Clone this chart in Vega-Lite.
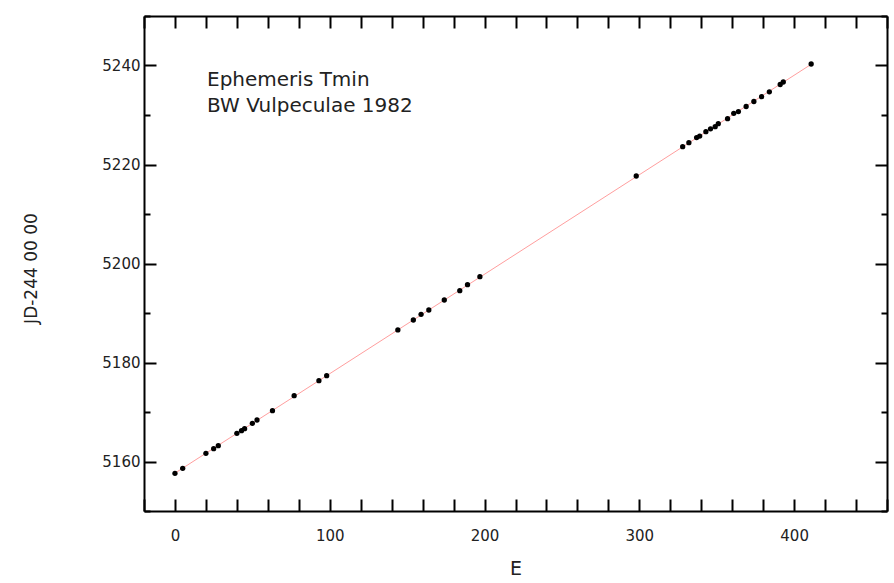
{
  "$schema": "https://vega.github.io/schema/vega-lite/v6.json",
  "width": 743,
  "height": 495,
  "autosize": {"type": "none"},
  "padding": {"left": 144, "top": 16, "right": 7, "bottom": 72},
  "background": "white",
  "config": {
    "view": {"stroke": null},
    "axis": {
      "grid": false,
      "domainColor": "black",
      "domainWidth": 2,
      "tickColor": "black",
      "tickWidth": 2,
      "labelFont": "DejaVu Sans",
      "labelFontSize": 15,
      "labelColor": "#222222",
      "labelOverlap": false,
      "labelFlush": false,
      "titleFont": "DejaVu Sans",
      "titleFontWeight": "normal",
      "titleColor": "#222222"
    }
  },
  "data": {
    "values": [
      {"E": 0, "JD": 5157.62},
      {"E": 5, "JD": 5158.63},
      {"E": 20, "JD": 5161.66},
      {"E": 25, "JD": 5162.59},
      {"E": 28, "JD": 5163.19},
      {"E": 40, "JD": 5165.70},
      {"E": 43, "JD": 5166.22},
      {"E": 45, "JD": 5166.63},
      {"E": 50, "JD": 5167.72},
      {"E": 53, "JD": 5168.38},
      {"E": 63, "JD": 5170.26},
      {"E": 77, "JD": 5173.29},
      {"E": 93, "JD": 5176.32},
      {"E": 98, "JD": 5177.33},
      {"E": 144, "JD": 5186.57},
      {"E": 154, "JD": 5188.59},
      {"E": 159, "JD": 5189.74},
      {"E": 164, "JD": 5190.61},
      {"E": 174, "JD": 5192.63},
      {"E": 184, "JD": 5194.51},
      {"E": 189, "JD": 5195.72},
      {"E": 197, "JD": 5197.33},
      {"E": 298, "JD": 5217.68},
      {"E": 328, "JD": 5223.60},
      {"E": 332, "JD": 5224.40},
      {"E": 337, "JD": 5225.45},
      {"E": 339, "JD": 5225.75},
      {"E": 343, "JD": 5226.63},
      {"E": 346, "JD": 5227.20},
      {"E": 349, "JD": 5227.64},
      {"E": 351, "JD": 5228.24},
      {"E": 357, "JD": 5229.25},
      {"E": 361, "JD": 5230.34},
      {"E": 364, "JD": 5230.70},
      {"E": 369, "JD": 5231.72},
      {"E": 374, "JD": 5232.73},
      {"E": 379, "JD": 5233.70},
      {"E": 384, "JD": 5234.69},
      {"E": 391, "JD": 5236.16},
      {"E": 393, "JD": 5236.67},
      {"E": 411, "JD": 5240.30}
    ]
  },
  "layer": [
    {
      "transform": [{"regression": "JD", "on": "E"}],
      "mark": {"type": "line", "color": "#ff9e9e", "strokeWidth": 1},
      "encoding": {
        "x": {
          "field": "E", "type": "quantitative",
          "scale": {"domain": [-20, 460], "nice": false, "zero": false},
          "axis": {
            "orient": "top",
            "values": [-20, 0, 20, 40, 60, 80, 100, 120, 140, 160, 180, 200, 220, 240, 260, 280, 300, 320, 340, 360, 380, 400, 420, 440, 460],
            "labels": false,
            "tickSize": -12,
            "title": null
          }
        },
        "y": {
          "field": "JD", "type": "quantitative",
          "scale": {"domain": [5150, 5250], "nice": false, "zero": false},
          "axis": {
            "orient": "right",
            "values": [5150, 5160, 5170, 5180, 5190, 5200, 5210, 5220, 5230, 5240, 5250],
            "labels": false,
            "tickSize": {"condition": {"test": "datum.value % 20 === 0", "value": -12}, "value": -6},
            "title": null
          }
        }
      }
    },
    {
      "mark": {"type": "circle", "color": "black", "size": 28, "opacity": 1},
      "encoding": {
        "x": {
          "field": "E", "type": "quantitative",
          "scale": {"domain": [-20, 460], "nice": false, "zero": false},
          "axis": {
            "orient": "bottom",
            "values": [-20, 0, 20, 40, 60, 80, 100, 120, 140, 160, 180, 200, 220, 240, 260, 280, 300, 320, 340, 360, 380, 400, 420, 440, 460],
            "labelExpr": "datum.value % 100 === 0 && datum.value >= 0 && datum.value <= 400 ? datum.label : ''",
            "tickSize": -12,
            "labelPadding": 29,
            "title": "E",
            "titleFontSize": 19,
            "titleY": 57,
            "titleBaseline": "middle"
          }
        },
        "y": {
          "field": "JD", "type": "quantitative",
          "scale": {"domain": [5150, 5250], "nice": false, "zero": false},
          "axis": {
            "orient": "left",
            "format": "d",
            "values": [5150, 5160, 5170, 5180, 5190, 5200, 5210, 5220, 5230, 5240, 5250],
            "labelExpr": "datum.value % 20 === 0 && datum.value > 5150 && datum.value < 5250 ? datum.label : ''",
            "tickSize": {"condition": {"test": "datum.value % 20 === 0", "value": -12}, "value": -6},
            "labelPadding": 16,
            "title": "JD-244 00 00",
            "titleFontSize": 17,
            "titleAngle": -90,
            "titleX": -113,
            "titleY": 252,
            "titleAlign": "center",
            "titleBaseline": "middle"
          }
        }
      }
    },
    {
      "data": {"values": [{"note": "Ephemeris Tmin"}]},
      "mark": {"type": "text", "align": "left", "baseline": "middle", "font": "DejaVu Sans", "fontSize": 20, "lineHeight": 26, "color": "#222222"},
      "encoding": {
        "x": {"datum": 20.7, "type": "quantitative", "axis": null},
        "y": {"datum": 5237, "type": "quantitative", "axis": null},
        "text": {"value": ["Ephemeris Tmin", "BW Vulpeculae 1982"]}
      }
    }
  ],
  "resolve": {"axis": {"x": "independent", "y": "independent"}}
}
